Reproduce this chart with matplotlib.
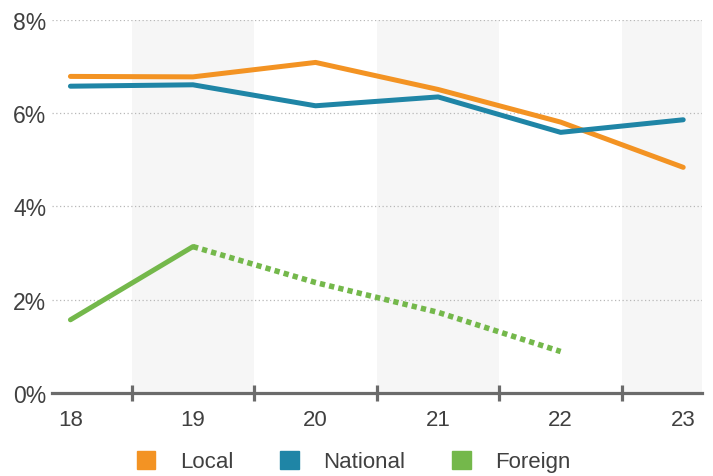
import matplotlib
matplotlib.use("Agg")
import matplotlib.pyplot as plt
from matplotlib.patches import Patch

# data
years = [18, 19, 20, 21, 22, 23]
year_labels = ["18", "19", "20", "21", "22", "23"]
local = [6.79, 6.78, 7.09, 6.51, 5.81, 4.84]
national = [6.58, 6.61, 6.16, 6.35, 5.59, 5.86]
foreign_years = [18, 19]
foreign = [1.57, 3.14]
foreign_proj_years = [19, 20, 21, 22]
foreign_proj = [3.14, 2.37, 1.73, 0.89]
y_ticks = [0, 2, 4, 6, 8]
y_labels = ["0%", "2%", "4%", "6%", "8%"]

c_local = "#f39323"
c_nat = "#1f85a6"
c_for = "#74b84b"
txt = "#404040"

plt.rcParams["font.family"] = ["Liberation Sans", "DejaVu Sans"]

fig = plt.figure(figsize=(7.13, 4.77), dpi=100)
ax = fig.add_axes([0.073, 0.174, 0.911, 0.782])

# alternating background bands
for x0, x1 in [(18.5, 19.5), (20.5, 21.5), (22.5, 23.5)]:
    ax.axvspan(x0, x1, color="#f6f6f6", zorder=0, lw=0)

for y in y_ticks[1:]:
    ax.axhline(y, color="#b8b8b8", lw=0.9, ls=(0, (1, 2)), zorder=1)

ax.plot(years, local, color=c_local, lw=3.6, solid_capstyle="round", zorder=3)
ax.plot(years, national, color=c_nat, lw=3.6, solid_capstyle="round", zorder=3)
ax.plot(foreign_years, foreign, color=c_for, lw=3.6, solid_capstyle="round", zorder=3)
ax.plot(foreign_proj_years, foreign_proj, color=c_for, lw=4.0,
        ls=(0, (0.95, 0.75)), dash_capstyle="butt", zorder=3)

ax.set_xlim(17.85, 23.15)
ax.set_ylim(0, 8)

for s in ["top", "right", "left"]:
    ax.spines[s].set_visible(False)
ax.spines["bottom"].set_color("#6b6b6b")
ax.spines["bottom"].set_linewidth(2.3)
ax.spines["bottom"].set_zorder(4)

ax.set_xticks(years)
ax.set_xticklabels(year_labels)
ax.set_xticks([18.5, 19.5, 20.5, 21.5, 22.5], minor=True)
ax.tick_params(axis="x", which="major", length=0, pad=11.5, labelsize=16, labelcolor=txt)
ax.tick_params(axis="x", which="minor", direction="inout", length=11, width=2.3, color="#6b6b6b")

ax.set_yticks(y_ticks)
ax.set_yticklabels(y_labels)
ax.tick_params(axis="y", length=0, pad=4, labelsize=16.5, labelcolor=txt)

handles = [Patch(color=c_local, label="Local"),
           Patch(color=c_nat, label="National"),
           Patch(color=c_for, label="Foreign")]
fig.legend(handles=handles, loc="center", bbox_to_anchor=(0.496, 0.03), ncol=3,
           frameon=False, fontsize=16, handlelength=0.85, handleheight=0.85,
           handletextpad=1.1, columnspacing=2.1, labelcolor=txt)

fig.savefig("out.png", dpi=100)
